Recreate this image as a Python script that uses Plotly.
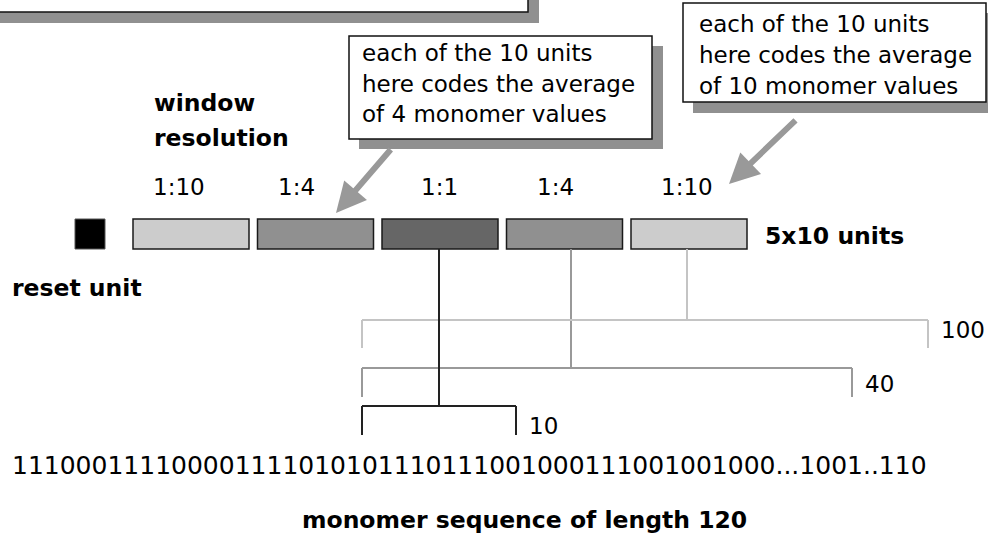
import plotly.graph_objects as go

# ---- content ----
window_labels = ["1:10", "1:4", "1:1", "1:4", "1:10"]
window_shades = ["#cccccc", "#909090", "#666666", "#909090", "#cccccc"]
bracket_labels = ["100", "40", "10"]
bracket_colors = ["#c4c4c4", "#999999", "#222222"]
sequence_text = "111000111100001111010101110111001000111001001000...1001..110"
callout_left = ["each of the 10 units", "here codes the average", "of 4 monomer values"]
callout_right = ["each of the 10 units", "here codes the average", "of 10 monomer values"]

# ---- layout geometry (pixel space, y downward) ----
W, H = 988, 538
bar_x0, bar_pitch, bar_w = 133, 124.5, 116
bar_top, bar_bot = 219, 249
label_x = [179, 296, 439, 555, 687]
stem_x = [439, 571, 687]           # for 10, 40, 100 brackets (reverse order)
bracket_left = 362
bracket_right = [928, 852, 516]
bracket_y = [320, 368, 406]
leg_len = [28, 29, 29]

REG = "DejaVu Sans"
BOLD = "DejaVu Sans"
FS = 23
FB = 23.5

shapes = []
annotations = []

def rect(x0, y0, x1, y1, fill, line_color=None, lw=0):
    shapes.append(dict(type="rect", xref="x", yref="y", x0=x0, y0=y0, x1=x1, y1=y1,
                       fillcolor=fill, line=dict(color=line_color or fill, width=lw), layer="above"))

def line(x0, y0, x1, y1, color, lw=2):
    shapes.append(dict(type="line", xref="x", yref="y", x0=x0, y0=y0, x1=x1, y1=y1,
                       line=dict(color=color, width=lw), layer="above"))

def text(x, y, s, size=FS, bold=False, xanchor="left"):
    annotations.append(dict(x=x, y=y, xref="x", yref="y", text=("<b>%s</b>" % s) if bold else s,
                            showarrow=False, xanchor=xanchor, yanchor="middle",
                            font=dict(family=BOLD if bold else REG, size=FB if bold else size, color="black")))

# top-left partial callout box
rect(0, -60, 539, 23, "#909090")
rect(-10, -70, 528, 12, "white", "#111111", 1.5)

# middle callout
rect(359, 46, 663, 149, "#909090")
rect(349, 36, 652, 139, "white", "#111111", 1.5)
for i, s in enumerate(callout_left):
    text(360, 53 + i * 30.5, s)

# right callout
rect(693, 13, 1000, 113, "#909090")
rect(683, 3, 986, 102, "white", "#111111", 1.5)
for i, s in enumerate(callout_right):
    text(697, 24 + i * 31, s)

# arrows
for (tx, ty, ax, ay) in [(336, 213, 392, 148), (729, 184, 797, 119)]:
    annotations.append(dict(x=tx, y=ty, ax=ax, ay=ay, xref="x", yref="y", axref="x", ayref="y",
                            text="", showarrow=True, arrowhead=2, arrowsize=1.0, arrowwidth=6,
                            arrowcolor="#999999", standoff=0, startstandoff=0))

# window resolution labels
text(152, 103, "window", bold=True)
text(152, 138, "resolution", bold=True)
for lx, lab in zip(label_x, window_labels):
    text(lx, 187, lab, xanchor="center")

# reset unit
rect(75, bar_top, 105, bar_bot, "black", "#555555", 1)
text(10, 288, "reset unit", bold=True)

# window bars
for i, shade in enumerate(window_shades):
    x0 = bar_x0 + i * bar_pitch
    rect(x0, bar_top, x0 + bar_w, bar_bot, shade, "#1a1a1a", 1.5)
text(763, 236, "5x10 units", bold=True)

# stems and brackets (100, 40, 10)
stems = list(reversed(stem_x))
for k in range(3):
    line(stems[k], bar_bot, stems[k], bracket_y[k], bracket_colors[k], 2)
for k in range(3):
    c = bracket_colors[k]
    y = bracket_y[k]
    line(bracket_left, y, bracket_right[k], y, c, 2)
    line(bracket_left, y, bracket_left, y + leg_len[k], c, 2)
    line(bracket_right[k], y, bracket_right[k], y + leg_len[k], c, 2)
    text(bracket_right[k] + 11, y + (10 if k == 0 else 16 if k == 1 else 20), bracket_labels[k])
# redraw dark stem on top
line(stems[2], bar_bot, stems[2], bracket_y[2], bracket_colors[2], 2)

# sequence
text(10, 465, sequence_text, size=25)
text(524, 520, "monomer sequence of length 120", bold=True, xanchor="center")

fig = go.Figure()
fig.update_layout(
    width=W, height=H, margin=dict(l=0, r=0, t=0, b=0),
    paper_bgcolor="white", plot_bgcolor="white",
    xaxis=dict(range=[0, W], visible=False, fixedrange=True),
    yaxis=dict(range=[H, 0], visible=False, fixedrange=True),
    shapes=shapes, annotations=annotations, showlegend=False,
)
fig.write_html("out.html", config={"displayModeBar": False},
               post_script="document.body.style.margin='0';document.body.style.overflow='hidden';")
